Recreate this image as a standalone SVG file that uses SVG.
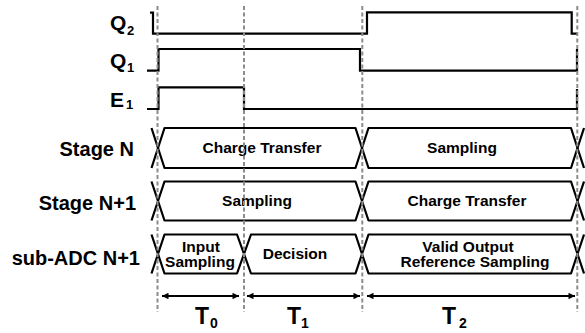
<svg xmlns="http://www.w3.org/2000/svg" width="585" height="333" viewBox="0 0 585 333">
  <style>
    .lbl { font-family: "Liberation Sans", Arial, sans-serif; font-weight: bold; fill: #000; }
    .big { font-size: 20px; }
    .sig { font-size: 21px; }
    .sub { font-size: 13px; }
    .in  { font-size: 15.5px; }
    .tt  { font-size: 23px; }
    .ts  { font-size: 14px; }
    .wave { fill: none; stroke: #000; stroke-width: 2.2; stroke-linejoin: miter; }
    .bus  { fill: none; stroke: #000; stroke-width: 2.2; stroke-linejoin: round; }
    .span { stroke: #000; stroke-width: 1.8; }
    .grid { stroke: #8c8c8c; stroke-width: 2; stroke-dasharray: 4 2.5; }
  </style>
  <defs>
    <marker id="ah" viewBox="0 0 10 10" refX="10" refY="5" markerWidth="4.4" markerHeight="3.6" orient="auto-start-reverse">
      <path d="M0,0 L10,5 L0,10 Z" fill="#000"/>
    </marker>
  </defs>
  <rect width="585" height="333" fill="#fff"/>

  <!-- signal names -->
  <g id="label-q2"><text class="lbl sig" x="110" y="30">Q</text><text class="lbl sub" x="127" y="34.5">2</text></g>
  <g id="label-q1"><text class="lbl sig" x="110" y="68">Q</text><text class="lbl sub" x="127" y="72">1</text></g>
  <g id="label-e1"><text class="lbl sig" x="110" y="106.5">E</text><text class="lbl sub" x="126" y="109">1</text></g>
  <g id="label-stage-n"><text class="lbl big" x="134" y="156" text-anchor="end">Stage N</text></g>
  <g id="label-stage-n1"><text class="lbl big" x="136" y="210" text-anchor="end">Stage N+1</text></g>
  <g id="label-subadc"><text class="lbl big" x="140" y="265" text-anchor="end">sub-ADC N+1</text></g>

  <!-- clock / enable waveforms -->
  <g id="wave-q2"><path class="wave" d="M150,12.7 H153 V33.7 H367 V12.3 H571.7 V33.7 H577"/></g>
  <g id="wave-q1"><path class="wave" d="M147,70.7 H158.5 V49 H360 V70.7 H577 V49"/></g>
  <g id="wave-e1"><path class="wave" d="M147,109 H158.5 V87.3 H244 V109 H577 V89"/></g>

  <!-- Stage N bus -->
  <g id="bus-stage-n">
    <path class="bus" d="M151.5,128 L158,148 L151.5,168"/>
    <path class="bus" d="M158,148 L164.5,128 H355.5 L362,148 L355.5,168 H164.5 Z"/>
    <path class="bus" d="M362,148 L368.5,128 H571 L577.5,148 L571,168 H368.5 Z"/>
    <path class="bus" d="M577.5,148 L584,128 M577.5,148 L584,168"/>
    <text class="lbl in" x="262" y="153" text-anchor="middle">Charge Transfer</text>
    <text class="lbl in" x="462" y="153" text-anchor="middle">Sampling</text>
  </g>

  <!-- Stage N+1 bus -->
  <g id="bus-stage-n1">
    <path class="bus" d="M151.5,181.5 L158,201 L151.5,220.5"/>
    <path class="bus" d="M158,201 L164.5,181.5 H355.5 L362,201 L355.5,220.5 H164.5 Z"/>
    <path class="bus" d="M362,201 L368.5,181.5 H571 L577.5,201 L571,220.5 H368.5 Z"/>
    <path class="bus" d="M577.5,201 L584,181.5 M577.5,201 L584,220.5"/>
    <text class="lbl in" x="257" y="206" text-anchor="middle">Sampling</text>
    <text class="lbl in" x="467" y="206" text-anchor="middle">Charge Transfer</text>
  </g>

  <!-- sub-ADC N+1 bus -->
  <g id="bus-subadc">
    <path class="bus" d="M151.5,234.5 L158,254 L151.5,273.5"/>
    <path class="bus" d="M158,254 L164.5,234.5 H237 L244,254 L237,273.5 H164.5 Z"/>
    <path class="bus" d="M244,254 L251,234.5 H355.5 L362,254 L355.5,273.5 H251 Z"/>
    <path class="bus" d="M362,254 L368.5,234.5 H571 L577.5,254 L571,273.5 H368.5 Z"/>
    <path class="bus" d="M577.5,254 L584,234.5 M577.5,254 L584,273.5"/>
    <text class="lbl in" x="201" y="251.5" text-anchor="middle">Input</text>
    <text class="lbl in" x="200" y="267" text-anchor="middle">Sampling</text>
    <text class="lbl in" x="295" y="258.5" text-anchor="middle">Decision</text>
    <text class="lbl in" x="468" y="251.5" text-anchor="middle">Valid Output</text>
    <text class="lbl in" x="475" y="267" text-anchor="middle">Reference Sampling</text>
  </g>

  <!-- phase durations -->
  <g id="spans">
    <line class="span" x1="162" y1="296" x2="239" y2="296" marker-start="url(#ah)" marker-end="url(#ah)"/>
    <line class="span" x1="247" y1="296" x2="360" y2="296" marker-start="url(#ah)" marker-end="url(#ah)"/>
    <line class="span" x1="367" y1="296" x2="575" y2="296" marker-start="url(#ah)" marker-end="url(#ah)"/>
  </g>
  <g id="label-t0"><text class="lbl tt" x="195" y="323.5">T</text><text class="lbl ts" x="210" y="328">0</text></g>
  <g id="label-t1"><text class="lbl tt" x="287" y="323.5">T</text><text class="lbl ts" x="301" y="328">1</text></g>
  <g id="label-t2"><text class="lbl tt" x="442" y="323.5">T</text><text class="lbl ts" x="459" y="328">2</text></g>

  <!-- phase boundaries -->
  <g id="boundaries">
    <line class="grid" x1="157.5" y1="6" x2="157.5" y2="312"/>
    <line class="grid" x1="244" y1="6" x2="244" y2="312"/>
    <line class="grid" x1="362.3" y1="6" x2="362.3" y2="312"/>
    <line class="grid" x1="577.3" y1="6" x2="577.3" y2="312"/>
  </g>
</svg>
